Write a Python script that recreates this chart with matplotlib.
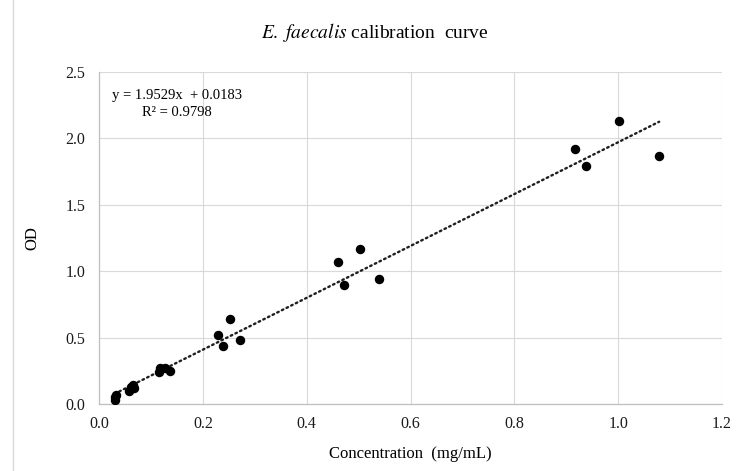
import matplotlib.pyplot as plt
from matplotlib.lines import Line2D
import numpy as np

# concentration (mg/mL) and OD readings
conc = [0.030, 0.031, 0.033, 0.058, 0.062, 0.065, 0.068,
        0.115, 0.118, 0.128, 0.136,
        0.230, 0.238, 0.252, 0.271,
        0.461, 0.472, 0.502, 0.539,
        0.916, 0.938, 1.002, 1.079]
od = [0.03, 0.05, 0.07, 0.10, 0.13, 0.14, 0.12,
      0.24, 0.27, 0.27, 0.25,
      0.52, 0.44, 0.64, 0.48,
      1.07, 0.895, 1.17, 0.94,
      1.92, 1.79, 2.13, 1.87]

slope = 1.9529
intercept = 0.0183
r2 = 0.9798

xticks = [0.0, 0.2, 0.4, 0.6, 0.8, 1.0, 1.2]
yticks = [0.0, 0.5, 1.0, 1.5, 2.0, 2.5]

plt.rcParams['font.family'] = ['Liberation Serif', 'DejaVu Serif']

fig = plt.figure(figsize=(7.44, 4.71), dpi=100)
ax = fig.add_axes([99/744, 1 - 404/471, (722 - 99)/744, (404 - 72)/471])

# trendline over the data range
xs = np.array([min(conc), max(conc)])
ax.plot(xs, slope*xs + intercept, color='#1f1f1f', lw=1.7,
        linestyle=(0, (0.7, 1.5)), dash_capstyle='round', zorder=2)
ax.plot(conc, od, 'o', color='black', markersize=5.8, zorder=3)

ax.set_xlim(0, 1.2)
ax.set_ylim(0, 2.5)
ax.set_xticks(xticks)
ax.set_yticks(yticks)
ax.set_xticklabels([f'{v:.1f}' for v in xticks])
ax.set_yticklabels([f'{v:.1f}' for v in yticks])
ax.tick_params(length=0, labelsize=11.5, colors='#1a1a1a')
ax.tick_params(axis='x', pad=9)
ax.tick_params(axis='y', pad=10)
ax.grid(True, color='#d9d9d9', lw=0.8)
ax.set_axisbelow(True)
for s in ['top', 'right']:
    ax.spines[s].set_visible(False)
for s in ['bottom', 'left']:
    ax.spines[s].set_color('#bfbfbf')
    ax.spines[s].set_linewidth(0.9)

ax.set_xlabel('Concentration  (mg/mL)', fontsize=12, labelpad=10)
ax.set_ylabel('OD', fontsize=12, labelpad=18)

fig.text(0.504, 0.93, r'$\it{E.\ faecalis}$ calibration  curve', fontsize=14,
         ha='center', va='center', math_fontfamily='stix')

fig.text(112/744, 1 - 95/471, f'y = {slope}x  + {intercept}',
         fontsize=10.5, va='center', ha='left')
fig.text(142/744, 1 - 113/471, f'R² = {r2}',
         fontsize=10.5, va='center', ha='left')

fig.add_artist(Line2D([13/744, 13/744], [0, 1], color='#d9d9d9', lw=1))

fig.savefig('out.png', dpi=100)
